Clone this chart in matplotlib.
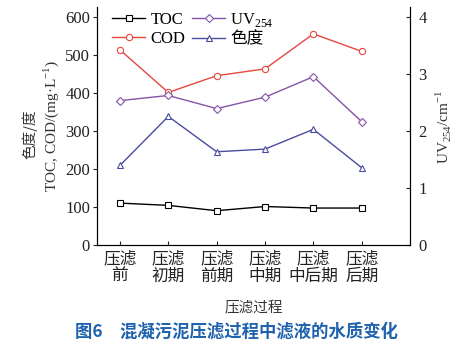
import numpy as np
import matplotlib
matplotlib.use("Agg")
import matplotlib.pyplot as plt

plt.rcParams['font.family'] = ['Liberation Serif', 'Noto Sans CJK SC']
plt.rcParams['mathtext.fontset'] = 'custom'
plt.rcParams['mathtext.rm'] = 'Liberation Serif'

# data
stages = ["压滤\n前", "压滤\n初期", "压滤\n前期", "压滤\n中期", "压滤\n中后期", "压滤\n后期"]
toc = [110, 104, 90, 101, 97, 97]
cod = [513, 401, 445, 463, 555, 509]
chroma = [209, 338, 245, 252, 304, 203]
uv254 = [2.53, 2.62, 2.39, 2.59, 2.95, 2.16]

x = np.arange(len(stages))

fig = plt.figure(figsize=(4.73, 3.44), dpi=100)
ax = fig.add_axes([0.205, 0.288, 0.662, 0.692])
ax2 = ax.twinx()

mk = dict(markersize=4.5, markerfacecolor='white', linewidth=1.0, markeredgewidth=0.8)
l1, = ax.plot(x, toc, color='black', marker='s', label='TOC', **mk)
l2, = ax.plot(x, cod, color='#e5473d', marker='o', label='COD', **mk)
l4, = ax.plot(x, chroma, color='#4a4c9e', marker='^', label='色度', **mk)
l3, = ax2.plot(x, uv254, color='#8654a6', marker='D', label='UV$_{254}$',
               **{**mk, 'markersize': 4})

ax.set_xlim(-0.475, 6.0)
ax.set_ylim(0, 626)
ax2.set_ylim(0, 626 / 150)
ax.set_yticks([0, 100, 200, 300, 400, 500, 600])
ax2.set_yticks([0, 1, 2, 3, 4])
ax.set_xticks(x)
ax.set_xticklabels(stages, family=['Noto Sans CJK SC'], fontsize=10.5, color='#333333',
                   linespacing=1.0)

for a in (ax, ax2):
    a.spines['top'].set_visible(False)
    a.tick_params(labelsize=12, colors='#222222', width=0.8, length=3)
ax.tick_params(axis='x', direction='in', pad=4)
ax.tick_params(axis='y', direction='out', pad=2)
ax2.tick_params(axis='y', direction='in', pad=6)

ax.set_xlabel("压滤过程", family=['Noto Sans CJK SC'], fontsize=10.5, color='#333333',
              labelpad=12)

fig.text(0.063, 0.61, "色度/度", rotation=90, ha='center', va='center',
         family=['Noto Sans CJK SC'], fontsize=10.5, color='#333333')
fig.text(0.108, 0.635, "TOC, COD/(mg·L$^{-1}$)", rotation=90, ha='center', va='center',
         fontsize=11, color='#333333')
fig.text(0.937, 0.63, "UV$_{254}$/cm$^{-1}$", rotation=90, ha='center', va='center',
         fontsize=11, color='#333333')

ax.legend(handles=[l1, l2, l3, l4], ncol=2, loc='upper left', frameon=False,
          bbox_to_anchor=(0.0, 1.045), handlelength=2.0,
          handletextpad=0.3, columnspacing=0.4, labelspacing=0.15,
          prop={'family': ['Liberation Serif', 'Noto Sans CJK SC'], 'size': 12})

fig.text(0.5, 0.035, "图6　混凝污泥压滤过程中滤液的水质变化", ha='center', va='center',
         family=['Noto Sans CJK SC'], fontsize=12.5, fontweight='bold', color='#1f62ad')

fig.savefig("out.png", dpi=100)
